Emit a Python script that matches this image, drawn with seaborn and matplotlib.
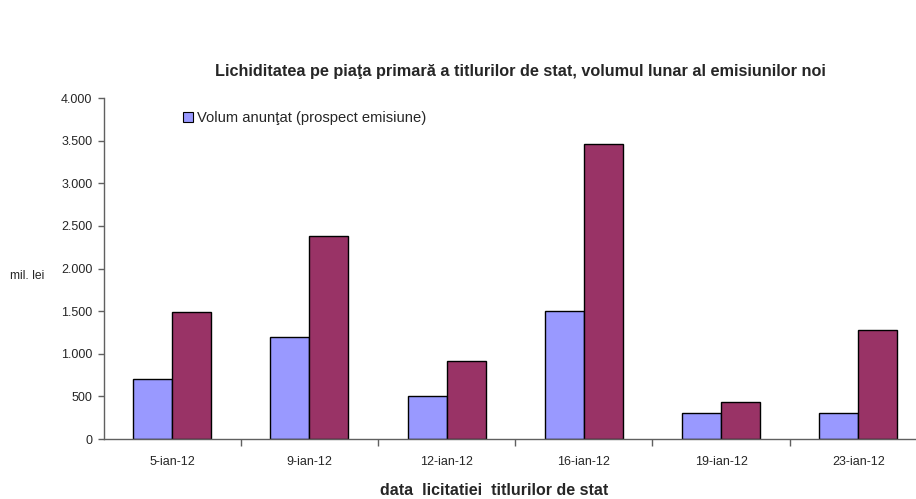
import seaborn as sns
import matplotlib.pyplot as plt
import pandas as pd
from matplotlib.patches import Patch

# values (mil. lei)
dates = ["5-ian-12", "9-ian-12", "12-ian-12", "16-ian-12", "19-ian-12", "23-ian-12"]
volum_anuntat = [700, 1200, 500, 1500, 300, 300]
volum_second = [1485, 2385, 915, 3465, 435, 1275]

s1 = "Volum anunţat (prospect emisiune)"
s2 = "_second"

df = pd.DataFrame({
    "data": dates * 2,
    "valoare": volum_anuntat + volum_second,
    "serie": [s1] * len(dates) + [s2] * len(dates),
})

sns.set_style("white")
plt.rcParams['font.family'] = ['Liberation Sans', 'DejaVu Sans']

fig = plt.figure(figsize=(9.16, 4.99), dpi=100)
ax = fig.add_axes([0.113, 0.1202, 0.899, 0.6834])

sns.barplot(data=df, x="data", y="valoare", hue="serie",
            palette={s1: "#9999FF", s2: "#993366"}, saturation=1,
            width=0.57, edgecolor="black", linewidth=1, ax=ax, legend=False)

ax.set_ylim(0, 4000)
ax.set_xlim(-0.5, len(dates) - 0.5)
ax.set_yticks(range(0, 4001, 500))
ax.set_yticklabels([f"{v:,}".replace(",", ".") for v in range(0, 4001, 500)], fontsize=9)
ax.tick_params(axis="y", length=4, width=1, color="#606060", left=True, pad=4)
ax.tick_params(axis="x", which="major", length=0, labelsize=9, pad=12)
ax.set_xticks([i + 0.5 for i in range(len(dates) - 1)], minor=True)
ax.tick_params(axis="x", which="minor", length=5, width=1, color="#606060", bottom=True)

for side in ["top", "right"]:
    ax.spines[side].set_visible(False)
for side in ["left", "bottom"]:
    ax.spines[side].set_color("#606060")
    ax.spines[side].set_linewidth(1)

ax.set_xlabel("")
ax.set_ylabel("")

fig.text(0.568, 0.857, "Lichiditatea pe piaţa primară a titlurilor de stat, volumul lunar al emisiunilor noi",
         ha="center", va="center", fontsize=11.7, fontweight="bold")
fig.text(0.011, 0.447, "mil. lei", ha="left", va="center", fontsize=8.7)
fig.text(0.539, 0.018, "data  licitatiei  titlurilor de stat", ha="center", va="center",
         fontsize=11.5, fontweight="bold")

ax.legend(handles=[Patch(facecolor="#9999FF", edgecolor="black", linewidth=0.8, label=s1)],
          loc="upper left", bbox_to_anchor=(0.08, 1.0), frameon=False, fontsize=10.6,
          handlelength=0.7, handleheight=0.7, handletextpad=0.3)

plt.savefig("out.png", dpi=100)
